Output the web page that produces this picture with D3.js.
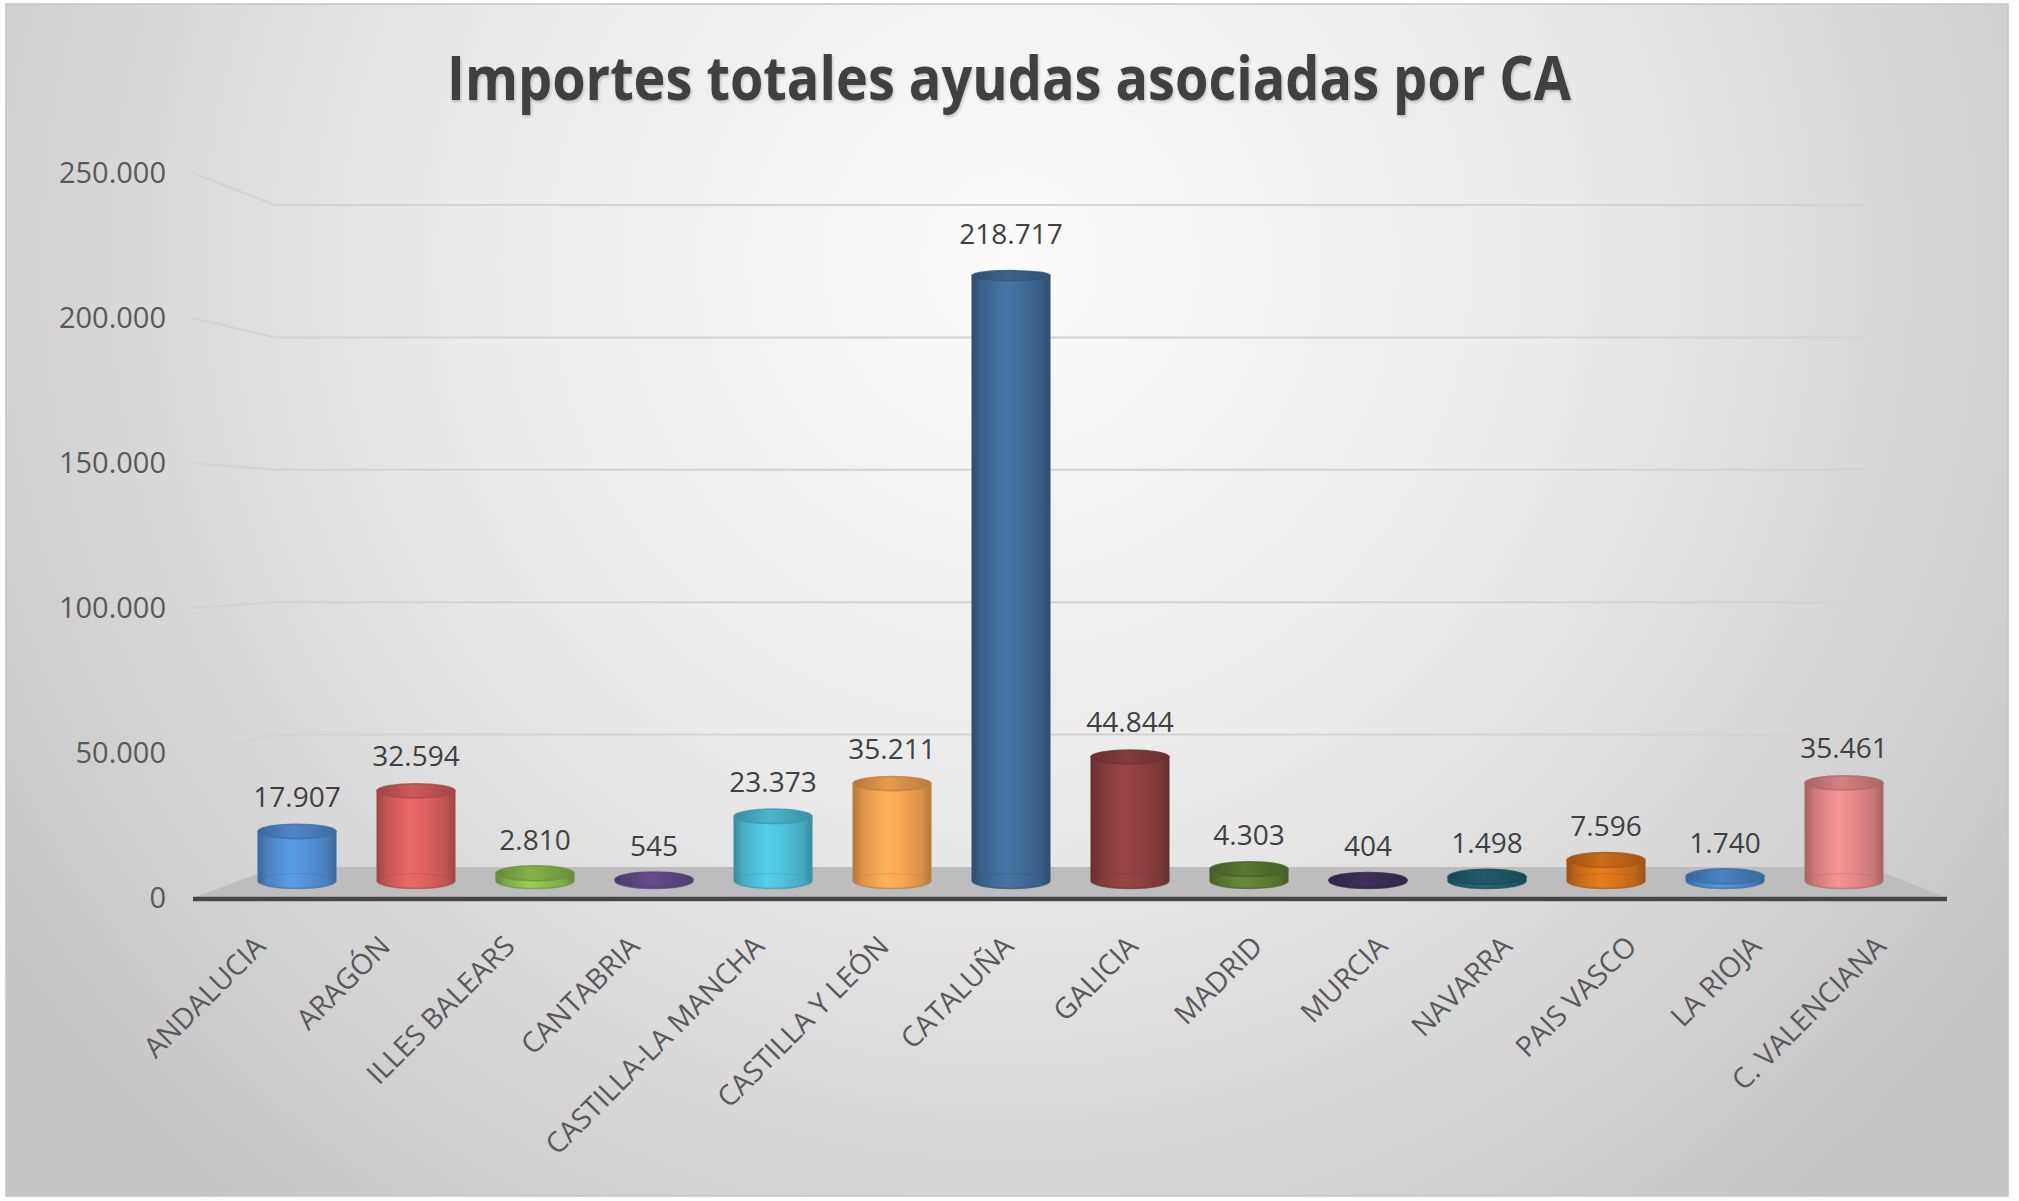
<!DOCTYPE html>
<html>
<head>
<meta charset="utf-8">
<script src="https://cdn.jsdelivr.net/npm/d3@7"></script>
<style>
  html, body { margin: 0; padding: 0; background: #ffffff; }
  svg { display: block; }
  text { font-family: "Open Sans", "Noto Sans", sans-serif; }
</style>
</head>
<body>
<script>
// ---------- data ----------
const categories = ["ANDALUCIA", "ARAGÓN", "ILLES BALEARS", "CANTABRIA", "CASTILLA-LA MANCHA",
  "CASTILLA Y LEÓN", "CATALUÑA", "GALICIA", "MADRID", "MURCIA", "NAVARRA", "PAIS VASCO",
  "LA RIOJA", "C. VALENCIANA"];
const values = [17907, 32594, 2810, 545, 23373, 35211, 218717, 44844, 4303, 404, 1498, 7596, 1740, 35461];
const barColors = ["#5290d4", "#d95f5f", "#8bbd4e", "#6a5093", "#4fbfda", "#f5a352", "#416a98",
  "#8c3f3f", "#5f7e32", "#40335e", "#216070", "#d6721a", "#4d8ad0", "#e38787"];
const yTicks = [0, 50000, 100000, 150000, 200000, 250000];
const titleText = "Importes totales ayudas asociadas por CA";

// ---------- layout ----------
const W = 2019, H = 1201;
const floorFrontX = [193, 1947], floorBackX = [275, 1870];

const yFront = d3.scaleLinear().domain([0, 250000]).range([898, 173]);
const yBack  = d3.scaleLinear().domain([0, 250000]).range([867, 205]);
const yMid   = d3.scaleLinear().domain([0, 250000]).range([881, 189]);
const xMid   = d3.scaleBand().domain(categories).range([237.5, 1903.5]);
const xFront = d3.scaleBand().domain(categories).range([198, 1943]);
const ryScale = d3.scaleLinear().domain([881, 275]).range([7.5, 5]).clamp(true);

const loc = d3.formatLocale({ decimal: ",", thousands: ".", grouping: [3], currency: ["", " €"] });
const fmt = loc.format(",");

const svg = d3.select("body").append("svg").attr("width", W).attr("height", H);
const defs = svg.append("defs");

// background gradient
const bg = defs.append("radialGradient").attr("id", "bg")
  .attr("gradientUnits", "userSpaceOnUse").attr("cx", 1010).attr("cy", 260).attr("r", 1250);
bg.append("stop").attr("offset", 0).attr("stop-color", "#fbfbfb");
bg.append("stop").attr("offset", 0.45).attr("stop-color", "#eaeaea");
bg.append("stop").attr("offset", 1).attr("stop-color", "#c4c4c4");

const sh = defs.append("filter").attr("id", "tshadow").attr("x", "-5%").attr("y", "-30%")
  .attr("width", "110%").attr("height", "160%");
sh.append("feDropShadow").attr("dx", 1).attr("dy", 2).attr("stdDeviation", 1.6)
  .attr("flood-color", "#000").attr("flood-opacity", 0.22);

svg.append("rect").attr("x", 6).attr("y", 4).attr("width", 2002).attr("height", 1192)
  .attr("fill", "url(#bg)").attr("stroke", "#c4c4c4").attr("stroke-width", 1.5);

// ---------- gridlines (side wall + back wall) ----------
const grid = svg.append("g").attr("fill", "none").attr("stroke", "#d3d3d3").attr("stroke-width", 2);
yTicks.filter(t => t > 0).forEach(t => {
  grid.append("path")
    .attr("d", `M${floorFrontX[0]},${yFront(t)} L${floorBackX[0]},${yBack(t)} L${floorBackX[1] - 3},${yBack(t)}`);
});

// ---------- floor ----------
svg.append("path")
  .attr("d", `M${floorFrontX[0]},${yFront(0)} L${floorBackX[0]},${yBack(0)} L${floorBackX[1]},${yBack(0)} L${floorFrontX[1]},${yFront(0)} Z`)
  .attr("fill", "#bdbdbd");
svg.append("line")
  .attr("x1", floorFrontX[0]).attr("x2", floorFrontX[1])
  .attr("y1", yFront(0) + 1).attr("y2", yFront(0) + 1)
  .attr("stroke", "#474747").attr("stroke-width", 4.5);

// ---------- y axis labels ----------
const yAxis = d3.axisLeft(yFront).tickValues(yTicks).tickFormat(fmt).tickSize(0).tickPadding(0);
const ya = svg.append("g").attr("transform", "translate(166,0)").call(yAxis);
ya.select(".domain").remove();
ya.selectAll("text").attr("font-size", 29).attr("fill", "#595959")
  .attr("font-family", "'Open Sans', sans-serif");

// ---------- cylinders ----------
const bars = svg.append("g");
categories.forEach((c, i) => {
  const col = d3.color(barColors[i]);
  const gid = "cyl" + i;
  const g = defs.append("linearGradient").attr("id", gid).attr("x1", 0).attr("x2", 1).attr("y1", 0).attr("y2", 0);
  [[0, col.darker(0.9)], [0.12, col.darker(0.3)], [0.42, col.brighter(0.25)], [0.62, col.brighter(0.05)],
   [0.88, col.darker(0.35)], [1, col.darker(0.9)]].forEach(([o, cc]) =>
    g.append("stop").attr("offset", o).attr("stop-color", cc.formatHex()));
  const cg = defs.append("linearGradient").attr("id", "cap" + i).attr("x1", 0).attr("x2", 1).attr("y1", 0).attr("y2", 0);
  [[0, col.darker(0.9)], [0.45, col.darker(0.15)], [1, col.darker(0.8)]].forEach(([o, cc]) =>
    cg.append("stop").attr("offset", o).attr("stop-color", cc.formatHex()));

  const v = values[i];
  const cx = xMid(c) + xMid.bandwidth() / 2;
  const rx = 39;
  const yb = yMid(0), yt = yMid(v);
  const ryB = ryScale(yb), ryT = ryScale(yt);
  const edge = col.darker(0.7).formatHex();

  bars.append("path")
    .attr("d", `M${cx - rx},${yt} L${cx - rx},${yb} A${rx},${ryB} 0 0 0 ${cx + rx},${yb} L${cx + rx},${yt} Z`)
    .attr("fill", `url(#${gid})`).attr("stroke", edge).attr("stroke-width", 1.5).attr("stroke-opacity", 0.7);
  // faint back rim of the base
  bars.append("path")
    .attr("d", `M${cx - rx},${yb} A${rx},${ryB} 0 0 1 ${cx + rx},${yb}`)
    .attr("fill", "none").attr("stroke", edge).attr("stroke-width", 1.2).attr("stroke-opacity", 0.35);
  // top cap
  bars.append("ellipse").attr("cx", cx).attr("cy", yt).attr("rx", rx).attr("ry", ryT)
    .attr("fill", `url(#cap${i})`).attr("stroke", edge).attr("stroke-width", 1.5).attr("stroke-opacity", 0.8);

  // value label
  const gap = 16 + 0.017 * (yb - yt);
  svg.append("text").attr("x", cx).attr("y", yt - ryT - gap)
    .attr("text-anchor", "middle").attr("font-size", 28).attr("fill", "#404040")
    .text(fmt(v));
});

// ---------- category labels ----------
categories.forEach(c => {
  const x = xFront(c) + xFront.bandwidth() / 2, y = 941;
  svg.append("text").attr("x", x).attr("y", y).attr("dy", "0.35em")
    .attr("transform", `rotate(-45,${x},${y})`)
    .attr("text-anchor", "end").attr("font-size", 28.5).attr("fill", "#595959")
    .text(c);
});

// ---------- title ----------
svg.append("text").attr("x", 1009).attr("y", 100).attr("text-anchor", "middle")
  .attr("font-size", 60).attr("font-weight", 700).attr("fill", "#404040")
  .attr("textLength", 1124).attr("lengthAdjust", "spacingAndGlyphs")
  .attr("filter", "url(#tshadow)")
  .text(titleText);
</script>
</body>
</html>
